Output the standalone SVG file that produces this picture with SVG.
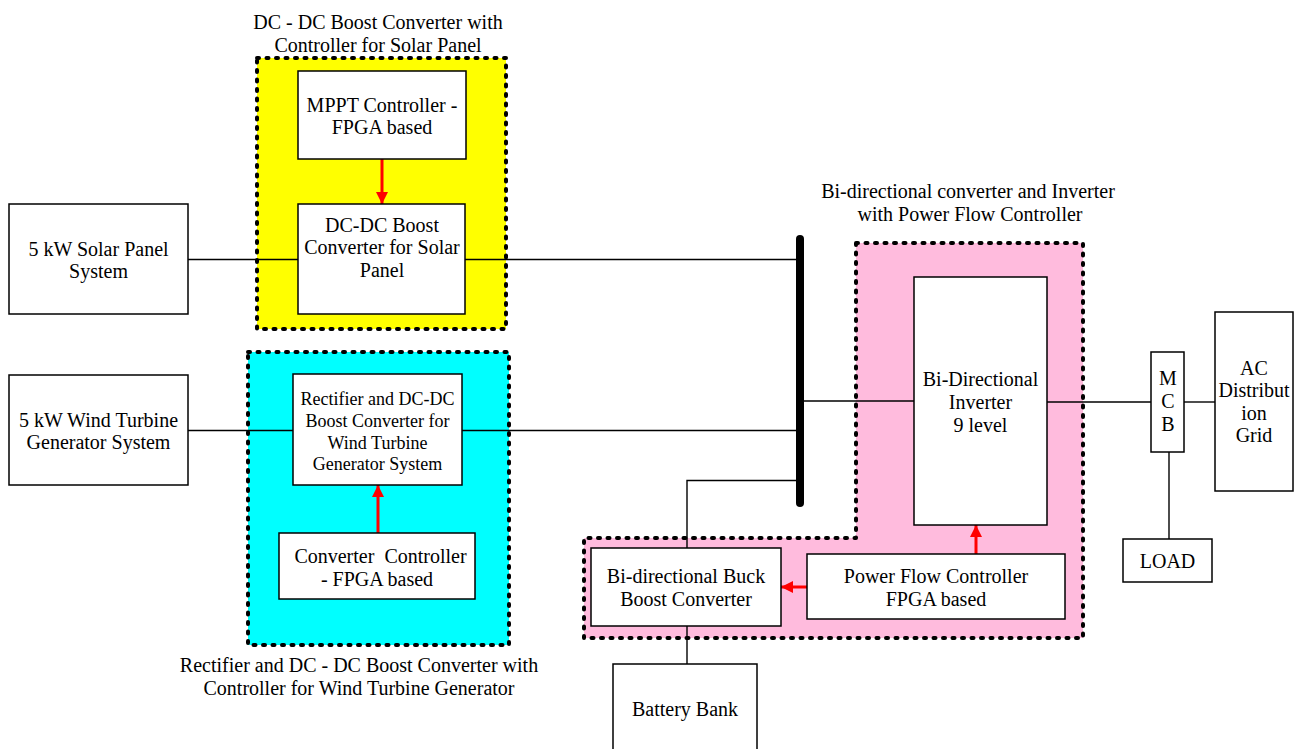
<svg xmlns="http://www.w3.org/2000/svg" width="1296" height="749" viewBox="0 0 1296 749">
<defs>
<marker id="ah" viewBox="0 0 10 10" refX="10" refY="5" markerWidth="4" markerHeight="4" orient="auto" markerUnits="strokeWidth">
<path d="M0,0 L10,5 L0,10 z" fill="#FF0000"/>
</marker>
<style>
text{font-family:"Liberation Serif","Times New Roman",serif;font-size:20px;fill:#000;text-anchor:middle}
.sm{font-size:18px}
.box{fill:#fff;stroke:#000;stroke-width:1.5}
.region{stroke:#000;stroke-width:4;stroke-dasharray:2 7.5;stroke-linecap:round;stroke-linejoin:round}
.wire{fill:none;stroke:#000;stroke-width:1.4}
.ctl{fill:none;stroke:#FF0000;stroke-width:3;marker-end:url(#ah)}
.pre{white-space:pre}
</style>
</defs>
<rect width="1296" height="749" fill="#fff"/>

<g id="regions">
<rect id="solar-region" class="region" x="257" y="58" width="249" height="271" fill="#FFFF00"/>
<rect id="wind-region" class="region" x="248" y="352" width="261" height="293" fill="#00FFFF"/>
<polygon id="bidir-region" class="region" points="856,243 1083,243 1083,638 584,638 584,538 856,538" fill="#FFBBDD"/>
</g>

<g id="titles">
<text x="378" y="29">DC - DC Boost Converter with</text>
<text x="378" y="52">Controller for Solar Panel</text>
<text x="968" y="198">Bi-directional converter and Inverter</text>
<text x="970" y="221">with Power Flow Controller</text>
<text x="359" y="672">Rectifier and DC - DC Boost Converter with</text>
<text x="359" y="695">Controller for Wind Turbine Generator</text>
</g>

<g id="connectors">
<line class="wire" x1="188" y1="259.5" x2="298" y2="259.5"/>
<line class="wire" x1="465" y1="259.5" x2="797" y2="259.5"/>
<line class="wire" x1="188" y1="430.5" x2="293" y2="430.5"/>
<line class="wire" x1="462" y1="430.5" x2="797" y2="430.5"/>
<line class="wire" x1="803" y1="401" x2="914" y2="401"/>
<line class="wire" x1="1047" y1="402" x2="1151" y2="402"/>
<line class="wire" x1="1184" y1="402" x2="1215" y2="402"/>
<polyline class="wire" points="797,480.5 687,480.5 687,548"/>
<line class="wire" x1="687" y1="626" x2="687" y2="664"/>
<line class="wire" x1="1169" y1="452" x2="1169" y2="539"/>
<line class="ctl" x1="382" y1="159" x2="382" y2="204"/>
<line class="ctl" x1="378" y1="533" x2="378" y2="485"/>
<line class="ctl" x1="976" y1="554" x2="976" y2="525"/>
<line class="ctl" x1="807" y1="587" x2="781" y2="587"/>
</g>

<g id="dc-bus">
<line x1="800" y1="239" x2="800" y2="503" stroke="#000" stroke-width="8" stroke-linecap="round"/>
</g>

<g id="solar-panel">
<rect class="box" x="9" y="204" width="179" height="110"/>
<text x="98.5" y="256">5 kW Solar Panel</text>
<text x="98.5" y="278">System</text>
</g>

<g id="wind-turbine">
<rect class="box" x="9" y="375" width="179" height="110"/>
<text x="98.5" y="427">5 kW Wind Turbine</text>
<text x="98.5" y="449">Generator System</text>
</g>

<g id="mppt">
<rect class="box" x="298" y="71" width="168" height="88"/>
<text x="382" y="112">MPPT Controller -</text>
<text x="382" y="134">FPGA based</text>
</g>

<g id="solar-boost">
<rect class="box" x="298" y="204" width="167" height="110"/>
<text x="382" y="232">DC-DC Boost</text>
<text x="382" y="254">Converter for Solar</text>
<text x="382" y="277">Panel</text>
</g>

<g id="wind-rectifier">
<rect class="box" x="293" y="374" width="169" height="111"/>
<text class="sm" x="377.5" y="405">Rectifier and DC-DC</text>
<text class="sm" x="377.5" y="427">Boost Converter for</text>
<text class="sm" x="377.5" y="449">Wind Turbine</text>
<text class="sm" x="377.5" y="470">Generator System</text>
</g>

<g id="converter-controller">
<rect class="box" x="279" y="533" width="196" height="66"/>
<text class="pre" x="380.5" y="563">Converter  Controller</text>
<text x="377" y="586">- FPGA based</text>
</g>

<g id="inverter">
<rect class="box" x="914" y="277" width="133" height="248"/>
<text x="980.5" y="386">Bi-Directional</text>
<text x="980.5" y="409">Inverter</text>
<text x="980.5" y="432">9 level</text>
</g>

<g id="buck-boost">
<rect class="box" x="591" y="548" width="190" height="78"/>
<text x="686" y="583">Bi-directional Buck</text>
<text x="686" y="606">Boost Converter</text>
</g>

<g id="power-flow-controller">
<rect class="box" x="807" y="554" width="258" height="65"/>
<text x="936" y="583">Power Flow Controller</text>
<text x="936" y="606">FPGA based</text>
</g>

<g id="battery-bank">
<rect class="box" x="613" y="664" width="144" height="100"/>
<text x="685" y="716">Battery Bank</text>
</g>

<g id="mcb">
<rect class="box" x="1151" y="352" width="33" height="100"/>
<text x="1168" y="385">M</text>
<text x="1168" y="408">C</text>
<text x="1168" y="431">B</text>
</g>

<g id="ac-grid">
<rect class="box" x="1215" y="312" width="78" height="179"/>
<text x="1254" y="375">AC</text>
<text x="1254" y="397">Distribut</text>
<text x="1254" y="420">ion</text>
<text x="1254" y="442">Grid</text>
</g>

<g id="load">
<rect class="box" x="1123" y="539" width="89" height="43"/>
<text x="1167.5" y="568">LOAD</text>
</g>
</svg>
